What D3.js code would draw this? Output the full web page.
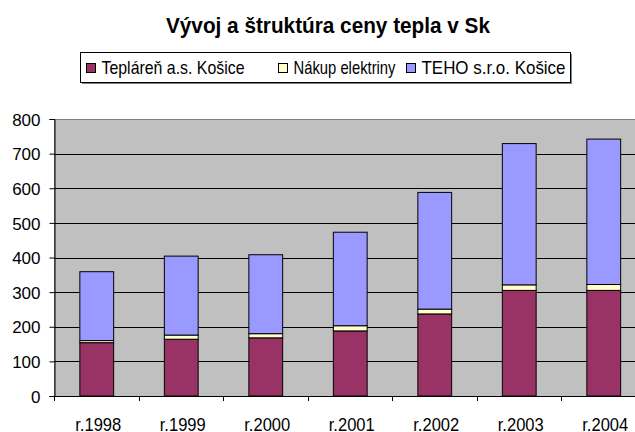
<!DOCTYPE html>
<html>
<head>
<meta charset="utf-8">
<script src="https://cdn.jsdelivr.net/npm/d3@7"></script>
<style>
  body { margin: 0; background: #fff; }
  text { font-family: "Liberation Sans", Arial, sans-serif; fill: #000; }
</style>
</head>
<body>
<svg width="635" height="432"></svg>
<script>
// data
var years = ["r.1998", "r.1999", "r.2000", "r.2001", "r.2002", "r.2003", "r.2004"];
var teplaren = [154, 164, 168, 188, 237, 305, 305];
var nakup = [6, 12, 12, 15, 14, 16, 17];
var teho = [199, 228, 228, 270, 337, 408, 420];
var seriesNames = ["Tepláreň a.s. Košice", "Nákup elektriny", "TEHO s.r.o. Košice"];
var seriesColors = ["#993366", "#FFFFCC", "#9999FF"];
var yTicks = [0, 100, 200, 300, 400, 500, 600, 700, 800];

var svg = d3.select("svg");

var pLeft = 54.5, pRight = 646, pTop = 119, pBottom = 396;

var x = d3.scaleBand().domain(years).range([pLeft, pRight])
    .paddingInner(0.6).paddingOuter(0.3);
var y = d3.scaleLinear().domain([0, 800]).range([pBottom, pTop]);

// table for the stack
var table = years.map(function(d, i) {
  return { year: d, a: teplaren[i], b: nakup[i], c: teho[i] };
});
var stack = d3.stack().keys(["a", "b", "c"])(table);

//Plot area
svg.append("rect")
  .attr("x", pLeft).attr("y", pTop + 0.5)
  .attr("width", pRight - pLeft).attr("height", pBottom - pTop)
  .attr("fill", "#C0C0C0")
  .attr("stroke", "#808080");

//Gridlines
svg.append("g")
  .selectAll("line")
  .data(yTicks.slice(1, -1))
  .enter().append("line")
    .attr("x1", pLeft).attr("x2", pRight)
    .attr("y1", function(d) { return Math.round(y(d)) + 0.5; })
    .attr("y2", function(d) { return Math.round(y(d)) + 0.5; })
    .attr("stroke", "#000");

//Bars
svg.append("g")
  .selectAll("g")
  .data(stack)
  .enter().append("g")
    .attr("fill", function(d, i) { return seriesColors[i]; })
  .selectAll("rect")
  .data(function(d) { return d; })
  .enter().append("rect")
    .attr("x", function(d) { return x(d.data.year); })
    .attr("width", x.bandwidth())
    .attr("y", function(d) { return y(d[1]); })
    .attr("height", function(d) { return y(d[0]) - y(d[1]); })
    .attr("stroke", "#000")
    .attr("stroke-width", 1);

//Y axis
var yAxis = svg.append("g")
  .attr("transform", "translate(" + pLeft + ",0)")
  .call(d3.axisLeft(y).tickValues(yTicks).tickSize(5).tickPadding(9));
yAxis.select(".domain").attr("stroke", "#000");
yAxis.selectAll("text")
  .style("font-size", "17px")
  .style("font-family", "Liberation Sans, Arial, sans-serif")
  .attr("dy", "0.36em");

//X axis (labels at centers, ticks between categories)
var xAxis = svg.append("g")
  .attr("transform", "translate(0," + pBottom + ")")
  .call(d3.axisBottom(x).tickSize(0));
xAxis.select(".domain").remove();
xAxis.selectAll("text")
  .attr("y", 34.5)
  .attr("dy", 0)
  .attr("x", 1.5)
  .attr("textLength", 46)
  .attr("lengthAdjust", "spacingAndGlyphs")
  .style("font-size", "18.5px")
  .style("font-family", "Liberation Sans, Arial, sans-serif");

svg.append("line")
  .attr("x1", pLeft).attr("x2", pRight)
  .attr("y1", pBottom + 0.5).attr("y2", pBottom + 0.5)
  .attr("stroke", "#000");

var gap = (x.step() - x.bandwidth()) / 2;
svg.append("g")
  .selectAll("line")
  .data(years)
  .enter().append("line")
    .attr("x1", function(d) { return Math.round(x(d) - gap) + 0.5; })
    .attr("x2", function(d) { return Math.round(x(d) - gap) + 0.5; })
    .attr("y1", pBottom).attr("y2", pBottom + 5)
    .attr("stroke", "#000");

//Title
svg.append("text")
  .attr("x", 328)
  .attr("y", 33)
  .attr("text-anchor", "middle")
  .style("font-size", "21.5px")
  .style("font-weight", "bold")
  .attr("textLength", 324)
  .attr("lengthAdjust", "spacingAndGlyphs")
  .text("Vývoj a štruktúra ceny tepla v Sk");

//Legend
var legend = svg.append("g");
legend.append("rect")
  .attr("x", 82).attr("y", 54).attr("width", 490).attr("height", 30)
  .attr("fill", "#808080");
legend.append("rect")
  .attr("x", 80.5).attr("y", 52.5).attr("width", 490).attr("height", 30)
  .attr("fill", "#fff").attr("stroke", "#000");

var swatchX = [86, 278, 406];
var labelW = [143, 102, 144];
seriesNames.forEach(function(name, i) {
  legend.append("rect")
    .attr("x", swatchX[i] + 0.5).attr("y", 63.5)
    .attr("width", 9).attr("height", 9)
    .attr("fill", seriesColors[i]).attr("stroke", "#000");
  legend.append("text")
    .attr("x", swatchX[i] + 15.5)
    .attr("y", 74)
    .style("font-size", "18.5px")
    .attr("textLength", labelW[i])
    .attr("lengthAdjust", "spacingAndGlyphs")
    .text(name);
});
</script>
</body>
</html>
